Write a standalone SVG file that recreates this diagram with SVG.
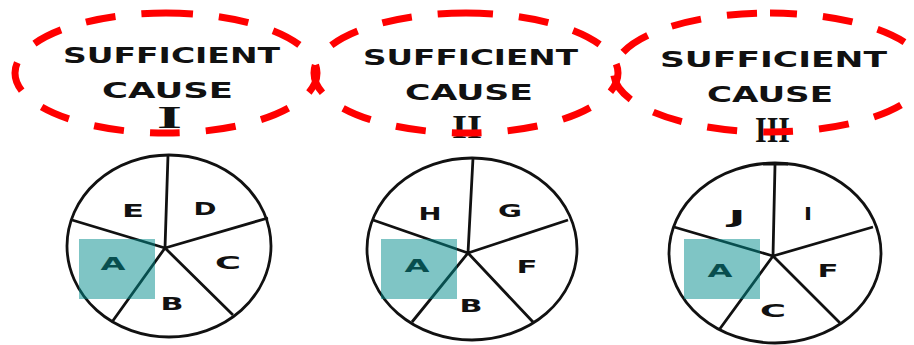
<svg xmlns="http://www.w3.org/2000/svg" width="914" height="345" viewBox="0 0 914 345">
<style>
.oval{fill:none;stroke:#ff0000;stroke-width:7;stroke-dasharray:30 26;stroke-dashoffset:3}
.hd{font-family:"DejaVu Sans",sans-serif;font-weight:bold;font-size:22px;fill:#111;text-anchor:middle}
.rn{font-family:"Liberation Serif",serif;font-weight:bold;fill:#111;text-anchor:middle}
.pie{fill:none;stroke:#111;stroke-width:2.8}
.sp{stroke:#111;stroke-width:2.8;fill:none}
.lb{font-family:"DejaVu Sans",sans-serif;font-weight:bold;font-size:18px;fill:#111;text-anchor:middle}
.hl{fill:#008c8c;fill-opacity:0.5}
</style>
<rect width="914" height="345" fill="#fff"/>

<g id="cause1">
<text class="hd" x="171.5" y="63" textLength="217" lengthAdjust="spacingAndGlyphs">SUFFICIENT</text>
<text class="hd" x="167.5" y="98" textLength="131" lengthAdjust="spacingAndGlyphs">CAUSE</text>
<text class="rn" x="169.5" y="128" font-size="31" textLength="25" lengthAdjust="spacingAndGlyphs">I</text>
<path class="oval" d="M166 13 A151 60 0 0 1 166 133 A151 60 0 0 1 166 13"/>
</g>
<g id="cause2">
<text class="hd" x="470.5" y="65" textLength="215" lengthAdjust="spacingAndGlyphs">SUFFICIENT</text>
<text class="hd" x="469" y="100" textLength="128" lengthAdjust="spacingAndGlyphs">CAUSE</text>
<text class="rn" x="467" y="138" font-size="34" textLength="30" lengthAdjust="spacingAndGlyphs">II</text>
<path class="oval" d="M466 13 A152 60 0 0 1 466 133 A152 60 0 0 1 466 13"/>
</g>
<g id="cause3">
<text class="hd" x="773.5" y="67" textLength="227" lengthAdjust="spacingAndGlyphs">SUFFICIENT</text>
<text class="hd" x="770" y="102" textLength="126" lengthAdjust="spacingAndGlyphs">CAUSE</text>
<text class="rn" x="772.5" y="142" font-size="36" textLength="35" lengthAdjust="spacingAndGlyphs">III</text>
<path class="oval" d="M770 13 A155 59 0 0 1 770 132 A155 59 0 0 1 770 13"/>
</g>

<g id="pie1">
<ellipse class="pie" cx="169" cy="246" rx="102" ry="91"/>
<path class="sp" d="M165 248 L168 155 M165 248 L268 218 M165 248 L233 315 M165 248 L112 322 M165 248 L72 220"/>
<text class="lb" x="133" y="216.5" textLength="22" lengthAdjust="spacingAndGlyphs">E</text>
<text class="lb" x="205" y="214.5" textLength="23" lengthAdjust="spacingAndGlyphs">D</text>
<text class="lb" x="228" y="268.5" textLength="26" lengthAdjust="spacingAndGlyphs">C</text>
<text class="lb" x="172" y="309.5" textLength="23" lengthAdjust="spacingAndGlyphs">B</text>
<text class="lb" x="113" y="269.5" textLength="25" lengthAdjust="spacingAndGlyphs">A</text>
<rect class="hl" x="79" y="239" width="76" height="60"/>
</g>

<g id="pie2">
<ellipse class="pie" cx="472" cy="249" rx="105" ry="91"/>
<path class="sp" d="M468 253 L473 158 M468 253 L568 220 M468 253 L533 322 M468 253 L412 322 M468 253 L373 220"/>
<text class="lb" x="430" y="219.5" textLength="23" lengthAdjust="spacingAndGlyphs">H</text>
<text class="lb" x="510" y="216.5" textLength="24" lengthAdjust="spacingAndGlyphs">G</text>
<text class="lb" x="527" y="272.5" textLength="21" lengthAdjust="spacingAndGlyphs">F</text>
<text class="lb" x="471" y="311.5" textLength="23" lengthAdjust="spacingAndGlyphs">B</text>
<text class="lb" x="417" y="271.5" textLength="25" lengthAdjust="spacingAndGlyphs">A</text>
<rect class="hl" x="381" y="239" width="76" height="60"/>
</g>

<g id="pie3">
<ellipse class="pie" cx="775" cy="253" rx="106" ry="90"/>
<path class="sp" d="M773 256 L775 165 M763 164 L788 164 M773 256 L873 227 M773 256 L840 323 M773 256 L719 330 M773 256 L674 227"/>
<text class="lb" x="737" y="222.5" textLength="17" lengthAdjust="spacingAndGlyphs">J</text>
<text class="lb" x="808" y="219.5" textLength="8" lengthAdjust="spacingAndGlyphs">I</text>
<text class="lb" x="828" y="276.5" textLength="21" lengthAdjust="spacingAndGlyphs">F</text>
<text class="lb" x="773" y="316.5" textLength="26" lengthAdjust="spacingAndGlyphs">C</text>
<text class="lb" x="720" y="276.5" textLength="25" lengthAdjust="spacingAndGlyphs">A</text>
<rect class="hl" x="684" y="239" width="76" height="60"/>
</g>

<g id="connectors"/>
</svg>
